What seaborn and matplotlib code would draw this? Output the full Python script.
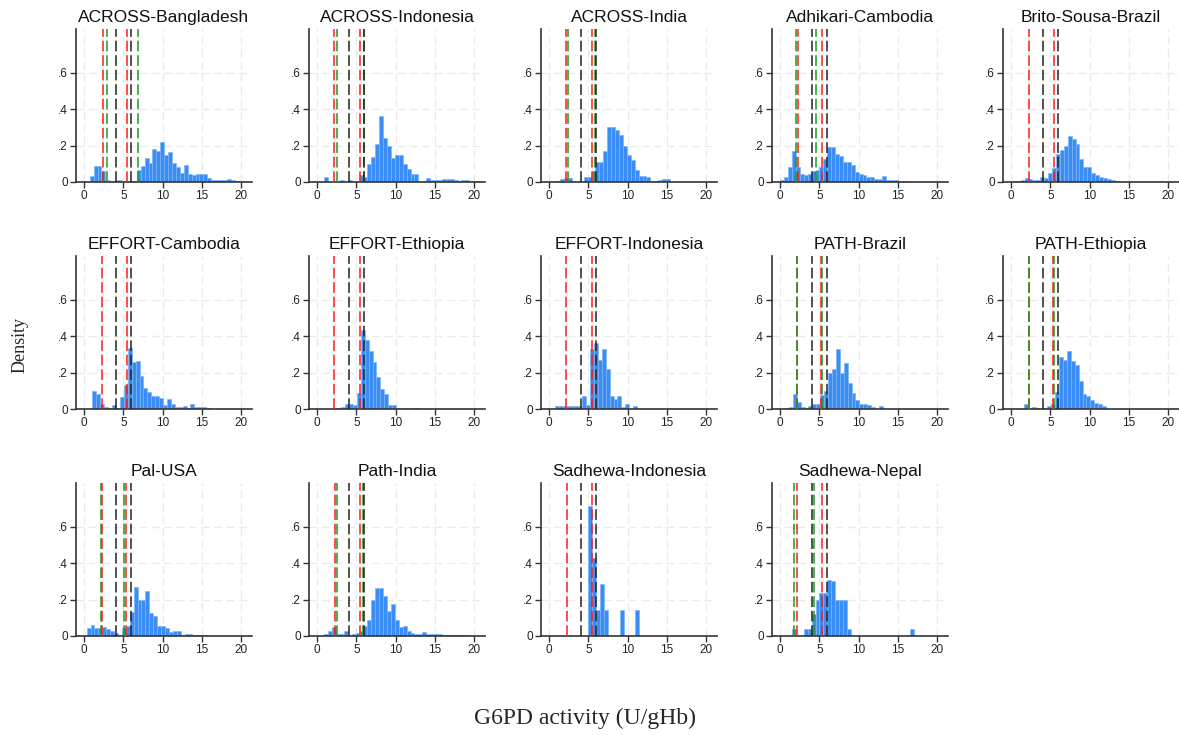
import numpy as np
import pandas as pd
import seaborn as sns
import matplotlib.pyplot as plt
from matplotlib.ticker import FuncFormatter

# ---- data (density per 0.5 U/gHb bin) ----
studies = ["ACROSS-Bangladesh", "ACROSS-Indonesia", "ACROSS-India", "Adhikari-Cambodia",
           "Brito-Sousa-Brazil", "EFFORT-Cambodia", "EFFORT-Ethiopia", "EFFORT-Indonesia",
           "PATH-Brazil", "PATH-Ethiopia", "Pal-USA", "Path-India",
           "Sadhewa-Indonesia", "Sadhewa-Nepal"]
bin_width = 0.5
first_bin = [0.7, 0.9, 0.9, 0.0, 0.2, 1.05, 2.05, 0.7, 0.1, 1.6, 0.3, 0.9, 5.0, 1.5]

across_bangladesh = [0.035, 0.09, 0.09, 0.06, 0.01, 0.005, 0.005, 0.01, 0, 0, 0.005, 0.005,
                     0.065, 0.09, 0.13, 0.105, 0.18, 0.17, 0.22, 0.15, 0.165, 0.105, 0.085,
                     0.05, 0.095, 0.045, 0.04, 0.045, 0.045, 0.045, 0.02, 0.01, 0.01, 0.01,
                     0.01, 0.015, 0.01, 0.005]
across_indonesia = [0.028, 0, 0, 0, 0.01, 0, 0.01, 0, 0, 0.037, 0.025, 0.1, 0.135, 0.21, 0.36,
                    0.24, 0.2, 0.13, 0.15, 0.15, 0.1, 0.07, 0.045, 0.045, 0, 0.005, 0.02, 0.01,
                    0.01, 0.01, 0.015, 0.015, 0.015, 0.01, 0.005, 0.01, 0.01, 0.005, 0.008, 0.005]
across_india = [0.005, 0.015, 0.02, 0.02, 0.005, 0, 0, 0.025, 0.03, 0.06, 0.11, 0.11, 0.17, 0.3,
                0.3, 0.285, 0.26, 0.2, 0.15, 0.12, 0.065, 0.035, 0.035, 0.03, 0.005, 0.005,
                0.01, 0.015, 0.015]
adhikari_cambodia = [0.01, 0.025, 0.08, 0.17, 0.08, 0.045, 0.04, 0.045, 0.06, 0.065, 0.085,
                     0.125, 0.19, 0.19, 0.155, 0.145, 0.11, 0.11, 0.095, 0.055, 0.045, 0.04,
                     0.03, 0.025, 0.015, 0.015, 0.035, 0.01, 0.01, 0.01, 0.005, 0.005]
brito_sousa_brazil = [0.005, 0.005, 0.01, 0.02, 0.015, 0.01, 0.01, 0.03, 0.02, 0.05, 0.075,
                      0.155, 0.175, 0.2, 0.25, 0.235, 0.21, 0.125, 0.08, 0.08, 0.05, 0.04,
                      0.025, 0.02, 0.015, 0.01, 0.005]
effort_cambodia = [0.1, 0.085, 0.025, 0.01, 0.005, 0.02, 0.005, 0.065, 0.13, 0.335, 0.26, 0.265,
                   0.18, 0.115, 0.095, 0.07, 0.07, 0.06, 0.02, 0.055, 0.03, 0.01, 0.01, 0.015,
                   0.005, 0.025, 0.01, 0.01, 0.01, 0.005]
effort_ethiopia = [0.005, 0.005, 0.01, 0.03, 0.03, 0.02, 0.09, 0.435, 0.38, 0.32, 0.26, 0.175,
                   0.11, 0.08, 0.02, 0.02, 0.005, 0, 0.005, 0, 0.005, 0.005, 0]
effort_indonesia = [0.015, 0.015, 0.015, 0.015, 0.015, 0.015, 0.015, 0.07, 0.02, 0.33, 0.36,
                    0.27, 0.33, 0.22, 0.07, 0.055, 0.07, 0.01, 0.03, 0, 0.015]
path_brazil = [0, 0.005, 0.01, 0.08, 0.04, 0.01, 0.005, 0.015, 0.025, 0.025, 0.075, 0.1, 0.2,
               0.22, 0.33, 0.2, 0.255, 0.145, 0.09, 0.05, 0.03, 0.025, 0.02, 0.01, 0, 0.015]
path_ethiopia = [0.03, 0.005, 0.01, 0.005, 0, 0.005, 0.015, 0.025, 0.095, 0.285, 0.27, 0.32,
                 0.265, 0.24, 0.155, 0.085, 0.07, 0.05, 0.035, 0.025, 0.015]
pal_usa = [0.045, 0.06, 0.045, 0.045, 0.05, 0.04, 0.025, 0.015, 0.005, 0.045, 0.055, 0.13, 0.27,
           0.2, 0.2, 0.245, 0.125, 0.11, 0.055, 0.055, 0.045, 0.02, 0.025, 0.025, 0.005, 0.01,
           0.01, 0.005, 0.005, 0.005, 0.005]
path_india = [0.01, 0.025, 0.05, 0.01, 0.01, 0.025, 0.005, 0.01, 0.015, 0.03, 0.055, 0.09, 0.2,
              0.265, 0.265, 0.22, 0.14, 0.175, 0.09, 0.05, 0.055, 0.025, 0.015, 0.01, 0.01,
              0.02, 0.01, 0.01, 0.01, 0.01, 0.005, 0.005, 0.005, 0.005, 0.005, 0.005, 0.005]
sadhewa_indonesia = [0.715, 0.43, 0.145, 0.285, 0.145, 0, 0, 0, 0.145, 0, 0, 0, 0.145]
sadhewa_nepal = [0.04, 0, 0, 0.04, 0.04, 0.12, 0.195, 0.235, 0.235, 0.31, 0.3, 0.2, 0.2, 0.2,
                 0.04, 0, 0, 0, 0, 0, 0, 0, 0, 0, 0, 0, 0, 0, 0, 0, 0.04]

densities = [across_bangladesh, across_indonesia, across_india, adhikari_cambodia,
             brito_sousa_brazil, effort_cambodia, effort_ethiopia, effort_indonesia,
             path_brazil, path_ethiopia, pal_usa, path_india, sadhewa_indonesia, sadhewa_nepal]

# cut-offs (30% / 70% of median), red and green per study, black fixed
red_cut = [(2.4, 5.5), (2.2, 5.4), (2.2, 5.4), (2.25, 5.3), (2.3, 5.45), (2.3, 5.4), (2.2, 5.4),
           (2.2, 5.4), (2.2, 5.2), (2.27, 5.3), (2.3, 5.3), (2.3, 5.45), (2.25, 5.4), (2.15, 5.3)]
green_cut = [(2.95, 6.9), (2.5, 6.0), (2.45, 5.88), (1.95, 4.5), None, None, None, None,
             (2.2, 5.3), (2.27, 5.42), (2.2, 5.1), (2.5, 5.9), None, (1.75, 4.3)]
fixed_cut = [4, 6]

rows = []
for study, start, dens in zip(studies, first_bin, densities):
    for i, d in enumerate(dens):
        rows.append((study, start + bin_width * (i + 0.5), d))
df = pd.DataFrame(rows, columns=["study", "g6pd", "density"])

sns.set_style("white")
plt.rcParams["font.family"] = ["Liberation Sans", "DejaVu Sans"]

W, H = 1179, 735
lefts = [76, 309, 541, 772, 1003]
tops = [29, 256, 483]
pw, ph = 176, 153

bar_blue = "#3a8df5"
dash = (0, (7, 2.5))
fig, axes = plt.subplots(3, 5, figsize=(W / 100, H / 100), dpi=100)

for k, study in enumerate(studies):
    ax = axes.flat[k]
    r, c = divmod(k, 5)
    ax.set_position([lefts[c] / W, 1 - (tops[r] + ph) / H, pw / W, ph / H])
    sub = df[df["study"] == study]
    edges = [first_bin[k] + bin_width * i for i in range(len(densities[k]) + 1)]
    sns.histplot(data=sub, x="g6pd", weights="density", bins=edges, ax=ax,
                 color=bar_blue, alpha=1, edgecolor="#7db5f7", linewidth=0.5, zorder=2)

    for v in red_cut[k]:
        ax.axvline(v, color="#ff1a1a", lw=1.1, ls=dash, zorder=3)
    if green_cut[k] is not None:
        for v in green_cut[k]:
            ax.axvline(v, color="#1a9a1a", lw=1.1, ls=dash, zorder=4)
    for v in fixed_cut:
        ax.axvline(v, color="#222222", lw=1.1, ls=dash, zorder=5)

    ax.set_xlim(-1.05, 21.4)
    ax.set_ylim(0, 0.84)
    ax.set_xticks([0, 5, 10, 15, 20])
    ax.set_yticks([0, 0.2, 0.4, 0.6])
    ax.yaxis.set_major_formatter(FuncFormatter(lambda v, p: "0" if v == 0 else f"{v:.1f}".lstrip("0")))
    ax.grid(which="major", color="#ebebeb", lw=1.0, ls=(0, (6, 3)), zorder=0)
    ax.set_axisbelow(True)
    ax.tick_params(which="major", direction="out", length=4, width=1, color="#333333",
                   labelsize=8.5, pad=2, left=True, bottom=True, labelcolor="#222222")
    for s in ["top", "right"]:
        ax.spines[s].set_visible(False)
    for s in ["left", "bottom"]:
        ax.spines[s].set_color("#333333")
        ax.spines[s].set_linewidth(1.2)
    ax.set_xlabel("")
    ax.set_ylabel("")
    ax.set_title(study, fontsize=12.5, pad=5, color="#111111")

axes.flat[14].axis("off")

fig.text(20 / W, 1 - 345 / H, "Density", rotation=90, ha="center", va="center",
         family="Liberation Serif", fontsize=13)
fig.text(585 / W, 1 - 718 / H, "G6PD activity (U/gHb)", ha="center", va="center",
         family="Liberation Serif", fontsize=17)

fig.savefig("out.png", dpi=100)
